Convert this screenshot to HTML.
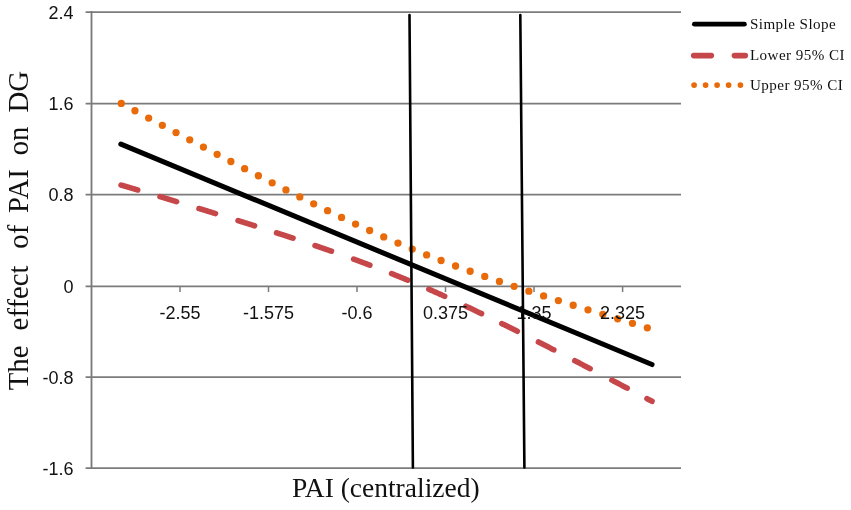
<!DOCTYPE html>
<html><head><meta charset="utf-8"><style>
html,body{margin:0;padding:0;background:#fff;overflow:hidden}
svg{display:block;will-change:transform}
.ax{font-family:"Liberation Sans",sans-serif;font-size:18px;fill:#111}
.lg{font-family:"Liberation Serif",serif;font-size:15.1px;letter-spacing:0.45px;fill:#111}
.tt{font-family:"Liberation Serif",serif;font-size:27.5px;fill:#111}
.yt{font-size:28.8px}
</style></head><body>
<svg width="851" height="510" viewBox="0 0 851 510">
<rect x="0" y="0" width="851" height="510" fill="#fff"/>
<line x1="85.6" y1="12.0" x2="681" y2="12.0" stroke="#7b7b7b" stroke-width="1.75"/>
<line x1="85.6" y1="103.6" x2="681" y2="103.6" stroke="#7b7b7b" stroke-width="1.75"/>
<line x1="85.6" y1="194.5" x2="681" y2="194.5" stroke="#7b7b7b" stroke-width="1.75"/>
<line x1="85.6" y1="286.4" x2="681" y2="286.4" stroke="#7b7b7b" stroke-width="1.75"/>
<line x1="85.6" y1="377.0" x2="681" y2="377.0" stroke="#7b7b7b" stroke-width="1.75"/>
<line x1="85.6" y1="468.0" x2="681" y2="468.0" stroke="#7b7b7b" stroke-width="1.75"/>
<line x1="91.5" y1="11.1" x2="91.5" y2="468.9" stroke="#7b7b7b" stroke-width="1.85"/>
<line x1="180.0" y1="286.3" x2="180.0" y2="292" stroke="#7b7b7b" stroke-width="1.5"/>
<line x1="268.5" y1="286.3" x2="268.5" y2="292" stroke="#7b7b7b" stroke-width="1.5"/>
<line x1="357.0" y1="286.3" x2="357.0" y2="292" stroke="#7b7b7b" stroke-width="1.5"/>
<line x1="445.5" y1="286.3" x2="445.5" y2="292" stroke="#7b7b7b" stroke-width="1.5"/>
<line x1="534.0" y1="286.3" x2="534.0" y2="292" stroke="#7b7b7b" stroke-width="1.5"/>
<line x1="622.6" y1="286.3" x2="622.6" y2="292" stroke="#7b7b7b" stroke-width="1.5"/>
<text x="73.5" y="19.2" text-anchor="end" class="ax">2.4</text>
<text x="73.5" y="110.3" text-anchor="end" class="ax">1.6</text>
<text x="73.5" y="201.2" text-anchor="end" class="ax">0.8</text>
<text x="73.5" y="293.1" text-anchor="end" class="ax">0</text>
<text x="73.5" y="383.7" text-anchor="end" class="ax">-0.8</text>
<text x="73.5" y="474.7" text-anchor="end" class="ax">-1.6</text>
<path d="M121.09,185.04 L121.14,185.06 L121.64,185.20 L122.14,185.35 L122.64,185.50 L123.14,185.65 L123.64,185.80 L124.14,185.94 L124.64,186.09 L125.14,186.24 L125.64,186.39 L126.14,186.53 L126.64,186.68 L127.14,186.83 L127.64,186.98 L128.14,187.12 L128.64,187.27 L129.14,187.42 L129.64,187.57 L130.14,187.72 L130.64,187.86 L131.14,188.01 L131.64,188.16 L132.14,188.31 L132.64,188.46 L133.14,188.60 L133.64,188.75 L134.14,188.90 L134.64,189.05 L135.14,189.19 L135.64,189.34 L136.14,189.49 L136.64,189.64 L137.14,189.79 L137.64,189.94 L137.68,189.95" fill="none" stroke="#C64749" stroke-width="5.6" stroke-linecap="round"/>
<path d="M159.98,196.62 L160.03,196.63 L160.53,196.78 L161.03,196.93 L161.53,197.09 L162.03,197.24 L162.53,197.39 L163.03,197.54 L163.53,197.69 L164.03,197.84 L164.53,197.99 L165.03,198.14 L165.53,198.30 L166.03,198.45 L166.53,198.60 L167.03,198.75 L167.53,198.90 L168.03,199.05 L168.53,199.20 L169.03,199.36 L169.53,199.51 L170.03,199.66 L170.53,199.81 L171.03,199.96 L171.53,200.11 L172.03,200.27 L172.53,200.42 L173.03,200.57 L173.53,200.72 L174.03,200.87 L174.53,201.03 L175.03,201.18 L175.53,201.33 L176.03,201.48 L176.53,201.63 L176.54,201.64" fill="none" stroke="#C64749" stroke-width="5.6" stroke-linecap="round"/>
<path d="M198.98,208.49 L199.03,208.50 L199.53,208.65 L200.03,208.81 L200.53,208.96 L201.03,209.11 L201.53,209.27 L202.03,209.42 L202.53,209.57 L203.03,209.73 L203.53,209.88 L204.03,210.04 L204.53,210.19 L205.03,210.34 L205.53,210.50 L206.03,210.65 L206.53,210.80 L207.03,210.96 L207.53,211.11 L208.03,211.27 L208.53,211.42 L209.03,211.57 L209.53,211.73 L210.03,211.88 L210.53,212.04 L211.03,212.19 L211.53,212.34 L212.03,212.50 L212.53,212.65 L213.03,212.81 L213.53,212.96 L214.03,213.12 L214.53,213.27 L215.03,213.43 L215.51,213.57" fill="none" stroke="#C64749" stroke-width="5.6" stroke-linecap="round"/>
<path d="M238.07,220.59 L238.12,220.61 L238.62,220.76 L239.12,220.92 L239.62,221.08 L240.12,221.23 L240.62,221.39 L241.12,221.55 L241.62,221.71 L242.12,221.86 L242.62,222.02 L243.12,222.18 L243.62,222.33 L244.12,222.49 L244.62,222.65 L245.12,222.81 L245.62,222.96 L246.12,223.12 L246.62,223.28 L247.12,223.44 L247.62,223.59 L248.12,223.75 L248.62,223.91 L249.12,224.07 L249.62,224.22 L250.12,224.38 L250.62,224.54 L251.12,224.70 L251.62,224.86 L252.12,225.01 L252.62,225.17 L253.12,225.33 L253.62,225.49 L254.12,225.65 L254.57,225.79" fill="none" stroke="#C64749" stroke-width="5.6" stroke-linecap="round"/>
<path d="M276.56,232.83 L276.61,232.84 L277.11,233.01 L277.61,233.17 L278.11,233.33 L278.61,233.49 L279.11,233.65 L279.61,233.82 L280.11,233.98 L280.61,234.14 L281.11,234.30 L281.61,234.47 L282.11,234.63 L282.61,234.79 L283.11,234.95 L283.61,235.12 L284.11,235.28 L284.61,235.44 L285.11,235.61 L285.61,235.77 L286.11,235.93 L286.61,236.10 L287.11,236.26 L287.61,236.42 L288.11,236.59 L288.61,236.75 L289.11,236.91 L289.61,237.08 L290.11,237.24 L290.61,237.41 L291.11,237.57 L291.61,237.73 L292.11,237.90 L292.61,238.06 L293.01,238.19" fill="none" stroke="#C64749" stroke-width="5.6" stroke-linecap="round"/>
<path d="M315.05,245.56 L315.10,245.58 L315.60,245.75 L316.10,245.92 L316.60,246.09 L317.10,246.26 L317.60,246.43 L318.10,246.60 L318.60,246.77 L319.10,246.94 L319.60,247.11 L320.10,247.28 L320.60,247.45 L321.10,247.62 L321.60,247.79 L322.10,247.97 L322.60,248.14 L323.10,248.31 L323.60,248.48 L324.10,248.65 L324.60,248.83 L325.10,249.00 L325.60,249.17 L326.10,249.34 L326.60,249.52 L327.10,249.69 L327.60,249.86 L328.10,250.04 L328.60,250.21 L329.10,250.38 L329.60,250.56 L330.10,250.73 L330.60,250.91 L331.10,251.08 L331.41,251.19" fill="none" stroke="#C64749" stroke-width="5.6" stroke-linecap="round"/>
<path d="M353.63,259.11 L353.68,259.13 L354.18,259.31 L354.68,259.49 L355.18,259.68 L355.68,259.86 L356.18,260.04 L356.68,260.23 L357.18,260.41 L357.68,260.60 L358.18,260.78 L358.68,260.96 L359.18,261.15 L359.68,261.33 L360.18,261.52 L360.68,261.70 L361.18,261.89 L361.68,262.07 L362.18,262.26 L362.68,262.45 L363.18,262.63 L363.68,262.82 L364.18,263.01 L364.68,263.19 L365.18,263.38 L365.68,263.57 L366.18,263.75 L366.68,263.94 L367.18,264.13 L367.68,264.32 L368.18,264.51 L368.68,264.70 L369.18,264.89 L369.68,265.07 L369.85,265.14" fill="none" stroke="#C64749" stroke-width="5.6" stroke-linecap="round"/>
<path d="M391.60,273.60 L391.65,273.62 L392.15,273.82 L392.65,274.02 L393.15,274.22 L393.65,274.42 L394.15,274.62 L394.65,274.83 L395.15,275.03 L395.65,275.23 L396.15,275.43 L396.65,275.63 L397.15,275.84 L397.65,276.04 L398.15,276.24 L398.65,276.45 L399.15,276.65 L399.65,276.85 L400.15,277.06 L400.65,277.26 L401.15,277.47 L401.65,277.67 L402.15,277.88 L402.65,278.08 L403.15,278.29 L403.65,278.50 L404.15,278.70 L404.65,278.91 L405.15,279.12 L405.65,279.32 L406.15,279.53 L406.65,279.74 L407.15,279.95 L407.62,280.14" fill="none" stroke="#C64749" stroke-width="5.6" stroke-linecap="round"/>
<path d="M428.86,289.23 L428.91,289.26 L429.41,289.48 L429.91,289.70 L430.41,289.92 L430.91,290.14 L431.41,290.36 L431.91,290.58 L432.41,290.80 L432.91,291.02 L433.41,291.24 L433.91,291.47 L434.41,291.69 L434.91,291.91 L435.41,292.13 L435.91,292.36 L436.41,292.58 L436.91,292.80 L437.41,293.03 L437.91,293.25 L438.41,293.47 L438.91,293.70 L439.41,293.92 L439.91,294.15 L440.41,294.37 L440.91,294.60 L441.41,294.83 L441.91,295.05 L442.41,295.28 L442.91,295.50 L443.41,295.73 L443.91,295.96 L444.41,296.18 L444.66,296.30" fill="none" stroke="#C64749" stroke-width="5.6" stroke-linecap="round"/>
<path d="M465.93,306.17 L465.98,306.20 L466.48,306.43 L466.98,306.67 L467.48,306.91 L467.98,307.15 L468.48,307.38 L468.98,307.62 L469.48,307.86 L469.98,308.10 L470.48,308.34 L470.98,308.57 L471.48,308.81 L471.98,309.05 L472.48,309.29 L472.98,309.53 L473.48,309.77 L473.98,310.01 L474.48,310.25 L474.98,310.49 L475.48,310.73 L475.98,310.97 L476.48,311.21 L476.98,311.45 L477.48,311.69 L477.98,311.93 L478.48,312.17 L478.98,312.42 L479.48,312.66 L479.98,312.90 L480.48,313.14 L480.98,313.38 L481.48,313.63 L481.53,313.65" fill="none" stroke="#C64749" stroke-width="5.6" stroke-linecap="round"/>
<path d="M501.81,323.61 L501.86,323.63 L502.36,323.88 L502.86,324.13 L503.36,324.37 L503.86,324.62 L504.36,324.87 L504.86,325.12 L505.36,325.36 L505.86,325.61 L506.36,325.86 L506.86,326.11 L507.36,326.35 L507.86,326.60 L508.36,326.85 L508.86,327.10 L509.36,327.35 L509.86,327.60 L510.36,327.85 L510.86,328.09 L511.36,328.34 L511.86,328.59 L512.36,328.84 L512.86,329.09 L513.36,329.34 L513.86,329.59 L514.36,329.84 L514.86,330.09 L515.36,330.34 L515.86,330.59 L516.36,330.84 L516.86,331.09 L517.30,331.31" fill="none" stroke="#C64749" stroke-width="5.6" stroke-linecap="round"/>
<path d="M538.40,341.97 L538.45,341.99 L538.95,342.25 L539.45,342.50 L539.95,342.76 L540.45,343.01 L540.95,343.27 L541.45,343.52 L541.95,343.78 L542.45,344.03 L542.95,344.29 L543.45,344.54 L543.95,344.80 L544.45,345.05 L544.95,345.31 L545.45,345.57 L545.95,345.82 L546.45,346.08 L546.95,346.33 L547.45,346.59 L547.95,346.85 L548.45,347.10 L548.95,347.36 L549.45,347.61 L549.95,347.87 L550.45,348.13 L550.95,348.38 L551.45,348.64 L551.95,348.90 L552.45,349.15 L552.95,349.41 L553.45,349.67 L553.80,349.85" fill="none" stroke="#C64749" stroke-width="5.6" stroke-linecap="round"/>
<path d="M574.78,360.70 L574.83,360.72 L575.33,360.98 L575.83,361.24 L576.33,361.50 L576.83,361.76 L577.33,362.02 L577.83,362.28 L578.33,362.54 L578.83,362.80 L579.33,363.06 L579.83,363.32 L580.33,363.59 L580.83,363.85 L581.33,364.11 L581.83,364.37 L582.33,364.63 L582.83,364.89 L583.33,365.15 L583.83,365.41 L584.33,365.67 L584.83,365.93 L585.33,366.19 L585.83,366.45 L586.33,366.71 L586.83,366.97 L587.33,367.24 L587.83,367.50 L588.33,367.76 L588.83,368.02 L589.33,368.28 L589.83,368.54 L590.13,368.69" fill="none" stroke="#C64749" stroke-width="5.6" stroke-linecap="round"/>
<path d="M611.88,380.10 L611.93,380.13 L612.43,380.39 L612.93,380.66 L613.43,380.92 L613.93,381.18 L614.43,381.45 L614.93,381.71 L615.43,381.97 L615.93,382.24 L616.43,382.50 L616.93,382.76 L617.43,383.03 L617.93,383.29 L618.43,383.56 L618.93,383.82 L619.43,384.08 L619.93,384.35 L620.43,384.61 L620.93,384.87 L621.43,385.14 L621.93,385.40 L622.43,385.67 L622.93,385.93 L623.43,386.19 L623.93,386.46 L624.43,386.72 L624.93,386.99 L625.43,387.25 L625.93,387.51 L626.43,387.78 L626.93,388.04 L627.18,388.18" fill="none" stroke="#C64749" stroke-width="5.6" stroke-linecap="round"/>
<path d="M646.97,398.66 L647.02,398.68 L647.52,398.95 L648.02,399.22 L648.52,399.48 L649.02,399.75 L649.52,400.01 L650.02,400.28 L650.52,400.54 L651.02,400.81 L651.52,401.07 L652.00,401.33" fill="none" stroke="#C64749" stroke-width="5.6" stroke-linecap="round"/>
<path d="M120.90,144.10 L652.00,364.51" fill="none" stroke="#000" stroke-width="5.1" stroke-linecap="round"/>
<path d="M121.30,103.43 L122.62,104.13 L123.93,104.83 L125.25,105.54 L126.57,106.24 L127.88,106.95 L129.20,107.65 L130.52,108.35 L131.83,109.06 L133.15,109.76 L134.47,110.46 L135.78,111.17 L137.10,111.87 L138.41,112.57 L139.73,113.27 L141.05,113.98 L142.36,114.68 L143.68,115.38 L145.00,116.08 L146.31,116.78 L147.63,117.49 L148.95,118.19 L150.26,118.89 L151.58,119.59 L152.90,120.29 L154.21,120.99 L155.53,121.69 L156.85,122.39 L158.16,123.10 L159.48,123.80 L160.80,124.50 L162.11,125.20 L163.43,125.90 L164.74,126.60 L166.06,127.30 L167.38,128.00 L168.69,128.69 L170.01,129.39 L171.33,130.09 L172.64,130.79 L173.96,131.49 L175.28,132.19 L176.59,132.89 L177.91,133.58 L179.23,134.28 L180.54,134.98 L181.86,135.68 L183.18,136.38 L184.49,137.07 L185.81,137.77 L187.12,138.47 L188.44,139.16 L189.76,139.86 L191.07,140.55 L192.39,141.25 L193.71,141.95 L195.02,142.64 L196.34,143.34 L197.66,144.03 L198.97,144.73 L200.29,145.42 L201.61,146.12 L202.92,146.81 L204.24,147.50 L205.56,148.20 L206.87,148.89 L208.19,149.58 L209.51,150.28 L210.82,150.97 L212.14,151.66 L213.45,152.35 L214.77,153.04 L216.09,153.74 L217.40,154.43 L218.72,155.12 L220.04,155.81 L221.35,156.50 L222.67,157.19 L223.99,157.88 L225.30,158.57 L226.62,159.26 L227.94,159.95 L229.25,160.63 L230.57,161.32 L231.89,162.01 L233.20,162.70 L234.52,163.39 L235.84,164.07 L237.15,164.76 L238.47,165.44 L239.78,166.13 L241.10,166.82 L242.42,167.50 L243.73,168.18 L245.05,168.87 L246.37,169.55 L247.68,170.24 L249.00,170.92 L250.32,171.60 L251.63,172.28 L252.95,172.97 L254.27,173.65 L255.58,174.33 L256.90,175.01 L258.22,175.69 L259.53,176.37 L260.85,177.05 L262.17,177.73 L263.48,178.40 L264.80,179.08 L266.12,179.76 L267.43,180.44 L268.75,181.11 L270.06,181.79 L271.38,182.46 L272.70,183.14 L274.01,183.81 L275.33,184.48 L276.65,185.16 L277.96,185.83 L279.28,186.50 L280.60,187.17 L281.91,187.84 L283.23,188.51 L284.55,189.18 L285.86,189.85 L287.18,190.52 L288.50,191.19 L289.81,191.85 L291.13,192.52 L292.44,193.19 L293.76,193.85 L295.08,194.51 L296.39,195.18 L297.71,195.84 L299.03,196.50 L300.34,197.16 L301.66,197.82 L302.98,198.48 L304.29,199.14 L305.61,199.80 L306.93,200.46 L308.24,201.11 L309.56,201.77 L310.88,202.42 L312.19,203.08 L313.51,203.73 L314.83,204.38 L316.14,205.03 L317.46,205.68 L318.77,206.33 L320.09,206.98 L321.41,207.63 L322.72,208.27 L324.04,208.92 L325.36,209.56 L326.67,210.21 L327.99,210.85 L329.31,211.49 L330.62,212.13 L331.94,212.77 L333.26,213.41 L334.57,214.04 L335.89,214.68 L337.21,215.32 L338.52,215.95 L339.84,216.58 L341.16,217.21 L342.47,217.84 L343.79,218.47 L345.10,219.10 L346.42,219.72 L347.74,220.35 L349.05,220.97 L350.37,221.59 L351.69,222.21 L353.00,222.83 L354.32,223.45 L355.64,224.07 L356.95,224.68 L358.27,225.30 L359.59,225.91 L360.90,226.52 L362.22,227.13 L363.54,227.74 L364.85,228.34 L366.17,228.95 L367.49,229.55 L368.80,230.15 L370.12,230.75 L371.43,231.35 L372.75,231.95 L374.07,232.55 L375.38,233.14 L376.70,233.73 L378.02,234.32 L379.33,234.91 L380.65,235.50 L381.97,236.08 L383.28,236.67 L384.60,237.25 L385.92,237.83 L387.23,238.41 L388.55,238.98 L389.87,239.56 L391.18,240.13 L392.50,240.70 L393.82,241.27 L395.13,241.84 L396.45,242.41 L397.76,242.97 L399.08,243.54 L400.40,244.10 L401.71,244.65 L403.03,245.21 L404.35,245.77 L405.66,246.32 L406.98,246.87 L408.30,247.42 L409.61,247.97 L410.93,248.52 L412.25,249.06 L413.56,249.60 L414.88,250.14 L416.20,250.68 L417.51,251.22 L418.83,251.75 L420.15,252.29 L421.46,252.82 L422.78,253.35 L424.09,253.87 L425.41,254.40 L426.73,254.92 L428.04,255.45 L429.36,255.97 L430.68,256.49 L431.99,257.00 L433.31,257.52 L434.63,258.03 L435.94,258.54 L437.26,259.05 L438.58,259.56 L439.89,260.07 L441.21,260.57 L442.53,261.08 L443.84,261.58 L445.16,262.08 L446.48,262.57 L447.79,263.07 L449.11,263.57 L450.42,264.06 L451.74,264.55 L453.06,265.04 L454.37,265.53 L455.69,266.02 L457.01,266.50 L458.32,266.99 L459.64,267.47 L460.96,267.95 L462.27,268.43 L463.59,268.91 L464.91,269.39 L466.22,269.86 L467.54,270.34 L468.86,270.81 L470.17,271.28 L471.49,271.75 L472.81,272.22 L474.12,272.69 L475.44,273.15 L476.75,273.62 L478.07,274.08 L479.39,274.54 L480.70,275.00 L482.02,275.46 L483.34,275.92 L484.65,276.38 L485.97,276.84 L487.29,277.29 L488.60,277.75 L489.92,278.20 L491.24,278.65 L492.55,279.10 L493.87,279.55 L495.19,280.00 L496.50,280.45 L497.82,280.90 L499.14,281.34 L500.45,281.79 L501.77,282.23 L503.08,282.68 L504.40,283.12 L505.72,283.56 L507.03,284.00 L508.35,284.44 L509.67,284.88 L510.98,285.31 L512.30,285.75 L513.62,286.19 L514.93,286.62 L516.25,287.06 L517.57,287.49 L518.88,287.92 L520.20,288.36 L521.52,288.79 L522.83,289.22 L524.15,289.65 L525.47,290.08 L526.78,290.50 L528.10,290.93 L529.41,291.36 L530.73,291.79 L532.05,292.21 L533.36,292.64 L534.68,293.06 L536.00,293.48 L537.31,293.91 L538.63,294.33 L539.95,294.75 L541.26,295.17 L542.58,295.59 L543.90,296.01 L545.21,296.43 L546.53,296.85 L547.85,297.27 L549.16,297.69 L550.48,298.11 L551.80,298.52 L553.11,298.94 L554.43,299.36 L555.74,299.77 L557.06,300.19 L558.38,300.60 L559.69,301.01 L561.01,301.43 L562.33,301.84 L563.64,302.25 L564.96,302.66 L566.28,303.08 L567.59,303.49 L568.91,303.90 L570.23,304.31 L571.54,304.72 L572.86,305.13 L574.18,305.54 L575.49,305.95 L576.81,306.35 L578.13,306.76 L579.44,307.17 L580.76,307.58 L582.07,307.98 L583.39,308.39 L584.71,308.80 L586.02,309.20 L587.34,309.61 L588.66,310.01 L589.97,310.42 L591.29,310.82 L592.61,311.23 L593.92,311.63 L595.24,312.03 L596.56,312.44 L597.87,312.84 L599.19,313.24 L600.51,313.64 L601.82,314.05 L603.14,314.45 L604.46,314.85 L605.77,315.25 L607.09,315.65 L608.40,316.05 L609.72,316.45 L611.04,316.85 L612.35,317.25 L613.67,317.65 L614.99,318.05 L616.30,318.45 L617.62,318.85 L618.94,319.25 L620.25,319.65 L621.57,320.04 L622.89,320.44 L624.20,320.84 L625.52,321.24 L626.84,321.63 L628.15,322.03 L629.47,322.43 L630.79,322.82 L632.10,323.22 L633.42,323.62 L634.73,324.01 L636.05,324.41 L637.37,324.80 L638.68,325.20 L640.00,325.59 L641.32,325.99 L642.63,326.38 L643.95,326.78 L645.27,327.17 L646.58,327.57 L647.90,327.96" fill="none" stroke="#E86A08" stroke-width="7.3" stroke-linecap="round" stroke-dasharray="0 15.5"/>
<text x="180.0" y="319" text-anchor="middle" class="ax">-2.55</text>
<text x="268.5" y="319" text-anchor="middle" class="ax">-1.575</text>
<text x="357.0" y="319" text-anchor="middle" class="ax">-0.6</text>
<text x="445.5" y="319" text-anchor="middle" class="ax">0.375</text>
<text x="534.0" y="319" text-anchor="middle" class="ax">1.35</text>
<text x="622.6" y="319" text-anchor="middle" class="ax">2.325</text>
<line x1="409.5" y1="15.1" x2="412.9" y2="467.4" stroke="#000" stroke-width="2.6" stroke-linecap="round"/>
<line x1="520.3" y1="15.1" x2="524.4" y2="467.4" stroke="#000" stroke-width="2.6" stroke-linecap="round"/>
<line x1="694.4" y1="24.2" x2="744.4" y2="24.2" stroke="#000" stroke-width="4.8" stroke-linecap="round"/>
<line x1="693.7" y1="55.6" x2="711.3" y2="55.6" stroke="#C64749" stroke-width="5.6" stroke-linecap="round"/>
<line x1="734.4" y1="55.6" x2="745.3" y2="55.6" stroke="#C64749" stroke-width="5.6" stroke-linecap="round"/>
<circle cx="694.1" cy="85.1" r="2.85" fill="#E86A08"/>
<circle cx="705.6" cy="85.1" r="2.85" fill="#E86A08"/>
<circle cx="717.1" cy="85.1" r="2.85" fill="#E86A08"/>
<circle cx="728.6" cy="85.1" r="2.85" fill="#E86A08"/>
<circle cx="740.4" cy="85.1" r="2.85" fill="#E86A08"/>
<text x="749.9" y="29.2" class="lg">Simple Slope</text>
<text x="749.9" y="59.9" class="lg">Lower 95% CI</text>
<text x="749.9" y="90.2" class="lg">Upper 95% CI</text>
<text x="385.8" y="497.3" text-anchor="middle" class="tt">PAI (centralized)</text>
<text transform="translate(28.0,367.9) rotate(-90)" text-anchor="middle" class="tt yt">The</text>
<text transform="translate(28.0,297.9) rotate(-90)" text-anchor="middle" class="tt yt">effect</text>
<text transform="translate(28.0,236.7) rotate(-90)" text-anchor="middle" class="tt yt">of</text>
<text transform="translate(28.0,191.1) rotate(-90)" text-anchor="middle" class="tt yt">PAI</text>
<text transform="translate(28.0,140.9) rotate(-90)" text-anchor="middle" class="tt yt">on</text>
<text transform="translate(28.0,91.8) rotate(-90)" text-anchor="middle" class="tt yt">DG</text>
</svg>
</body></html>
